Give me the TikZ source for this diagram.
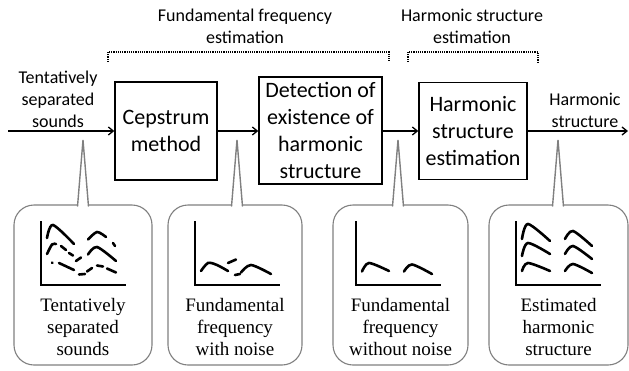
\documentclass[tikz,border=0pt]{standalone}
\usepackage{fontspec}
\setmainfont{Carlito}
\newfontfamily\capfont{Liberation Serif}
\usetikzlibrary{positioning,arrows.meta}

\tikzset{
  block/.style={draw, line width=1.3pt, align=center, inner sep=0pt,
    font=\fontsize{22}{27}\selectfont},
  toplabel/.style={align=center, inner sep=0pt, font=\fontsize{18}{22}\selectfont},
  flow/.style={line width=1.3pt, -{Straight Barb[length=5pt,width=8pt]}},
  bracket/.style={line width=1.2pt, densely dotted},
  callout/.style={draw=gray, line width=1.1pt, rounded corners=20pt, fill=white},
  pointer/.style={draw=gray, line width=1.4pt, fill=white},
  caption/.style={align=center, inner sep=0pt, font=\capfont\fontsize{19}{21.7}\selectfont},
  axis/.style={line width=1.3pt},
  trace/.style={line width=2.6pt, line cap=round}
}

\begin{document}
\begin{tikzpicture}[x=1pt, y=-1pt]
  \useasboundingbox (0,0) rectangle (629,370);

  % top headings and brackets
  \node[toplabel] (fundlab) at (245,26) {Fundamental frequency\\estimation};
  \node[toplabel] (harmlab) at (472,26) {Harmonic structure\\estimation};
  \draw[bracket] (108,62) -- (108,52) -- (389,52) -- (389,62);
  \draw[bracket] (408,62) -- (408,52) -- (538,52) -- (538,62);

  % processing chain
  \coordinate (in) at (8,131);
  \coordinate (out) at (628,131);
  \node[block, minimum width=102pt, minimum height=98pt] (cep) at (166,131) {Cepstrum\\method};
  \node[block, minimum width=123pt, minimum height=107pt] (det) at (320.5,130.5)
    {Detection of\\existence of\\harmonic\\structure};
  \node[block, minimum width=108pt, minimum height=97pt] (harm) at (473,131)
    {Harmonic\\structure\\estimation};
  \node[toplabel] (inlab) at (58,99) {Tentatively\\separated\\sounds};
  \node[toplabel] (outlab) at (585,110) {Harmonic\\structure};

  \draw[flow] (in) -- (cep.west |- in);
  \draw[flow] (cep.east |- in) -- (det.west |- in);
  \draw[flow] (det.east |- in) -- (harm.west |- in);
  \draw[flow] (harm.east |- in) -- (out);

  % callout boxes
  \node[callout, minimum width=138pt, minimum height=160pt] (boxA) at (83,285) {};
  \node[callout, minimum width=134pt, minimum height=160pt] (boxB) at (235,285) {};
  \node[callout, minimum width=135pt, minimum height=160pt] (boxC) at (400.5,285) {};
  \node[callout, minimum width=139pt, minimum height=160pt] (boxD) at (558.5,285) {};
  \foreach \tip in {83,237,398,558}
    \draw[pointer] (\tip-5.5,206.5) -- (\tip,140) -- (\tip+5.5,206.5);

  \node[caption] (capA) at (83,327) {Tentatively\\separated\\sounds};
  \node[caption] (capB) at (235,327) {Fundamental\\frequency\\with noise};
  \node[caption] (capC) at (400.5,327) {Fundamental\\frequency\\without noise};
  \node[caption] (capD) at (558.5,327) {Estimated\\harmonic\\structure};

  % small plots
  \foreach \ox in {41,195,356,516}
    \draw[axis] (\ox,221) -- (\ox,285) -- (\ox+85,285);

  \begin{scope}[shift={(41,285)}, yscale=-1]
    \draw[trace] plot[smooth] coordinates {(6,47) (12,60) (33,41)};
    \draw[trace] plot[smooth] coordinates {(6,31) (11,40.5) (15,41)};
    \draw[trace] (20,39) -- (25,35);
    \draw[trace] (28,32) -- (32,29.5);
    \draw[trace] (35,24) -- (40,27.5);
    \draw[trace] (11,22.5) -- (11.5,22);
    \draw[trace] (18,22) -- (33,15);
    \draw[trace] (38,10.5) -- (44,11);
    \draw[trace] (46,13.5) -- (51,17);
    \draw[trace] (56,19.5) -- (62,18.5);
    \draw[trace] (66,16.5) -- (75,12.5);
    \draw[trace] plot[smooth] coordinates {(47,45.5) (56,53) (65,48)};
    \draw[trace] (72,42) -- (74,39);
    \draw[trace] plot[smooth] coordinates {(47,30.5) (56,38) (75,24)};
  \end{scope}

  \begin{scope}[shift={(195,285)}, yscale=-1]
    \draw[trace] plot[smooth] coordinates {(6,14) (13,22) (22,20) (33,14)};
    \draw[trace] (33,22) -- (41,25.5);
    \draw[trace] (40,10) -- (45,11);
    \draw[trace] plot[smooth] coordinates {(46,12.5) (56,20) (76,11)};
  \end{scope}

  \begin{scope}[shift={(356,285)}, yscale=-1]
    \draw[trace] plot[smooth] coordinates {(6,13.5) (13,22) (33,14)};
    \draw[trace] plot[smooth] coordinates {(48,13.5) (56,20.5) (76,11)};
  \end{scope}

  \begin{scope}[shift={(516,285)}, yscale=-1]
    \foreach \lo/\hi/\ro in {46/61/44, 29/42/31, 14/22/14}
      \draw[trace] plot[smooth] coordinates {(6,\lo) (12,\hi) (34,\ro)};
    \foreach \lo/\hi/\ro in {46/54/39, 31/39/26, 14/21/12}
      \draw[trace] plot[smooth] coordinates {(49,\lo) (57,\hi) (76,\ro)};
  \end{scope}
\end{tikzpicture}
\end{document}
